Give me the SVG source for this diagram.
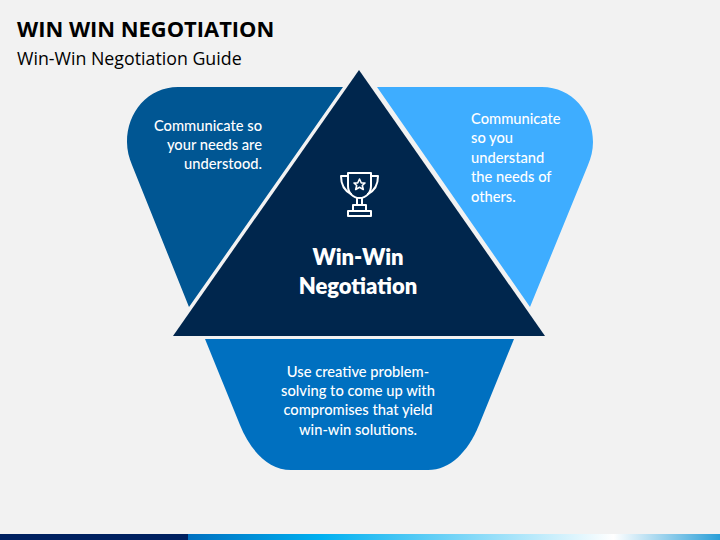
<svg xmlns="http://www.w3.org/2000/svg" width="720" height="540" viewBox="0 0 720 540">
<style>
.t{font-family:"Open Sans","Noto Sans",sans-serif;fill:#000}
.b{font-family:Lato,"Noto Sans",sans-serif;font-size:14.7px;font-weight:500;fill:#fff}
.c{font-family:Lato,"Noto Sans",sans-serif;font-size:22px;font-weight:800;fill:#fff;text-anchor:middle}
.i{fill:none;stroke:#fff;stroke-width:2;stroke-linejoin:round;stroke-linecap:round}
</style>
<defs><linearGradient id="g" x1="0" x2="1" y1="0" y2="0">
<stop offset="0" stop-color="#0070c0"/><stop offset="0.25" stop-color="#00b0f0"/><stop offset="0.8" stop-color="#ffffff"/><stop offset="1" stop-color="#2a9fd8"/></linearGradient></defs>
<rect width="720" height="540" fill="#f2f2f2"/>
<rect x="0" y="534" width="188" height="6" fill="#002060"/>
<rect x="188" y="534" width="532" height="6" fill="url(#g)"/>
<g id="title">
<text class="t" x="17" y="37" font-size="21.9" font-weight="700">WIN WIN NEGOTIATION</text>
<text class="t" x="17" y="65" font-size="17.8">Win-Win Negotiation Guide</text>
</g>
<g id="node-left">
<path d="M343 87H178C148 87 127 112 127 142C127 150 129 158 132 165L189 307Z" fill="#005693"/>
<text class="b" text-anchor="end"><tspan x="262" y="131">Communicate so</tspan><tspan x="262" y="150">your needs are</tspan><tspan x="262" y="169">understood.</tspan></text>
</g>
<g id="node-right">
<path d="M377 87H542C572 87 593 112 593 142C593 150 591 158 588 165L530 307Z" fill="#3eadff"/>
<text class="b"><tspan x="471" y="124">Communicate</tspan><tspan x="471" y="143">so you</tspan><tspan x="471" y="163">understand</tspan><tspan x="471" y="182">the needs of</tspan><tspan x="471" y="202">others.</tspan></text>
</g>
<g id="node-bottom">
<path d="M205 339H514L479 425C468 452 450 470 428 470H291C269 470 251 452 240 425Z" fill="#0070c0"/>
<text class="b" text-anchor="middle"><tspan x="358" y="377">Use creative problem-</tspan><tspan x="358" y="396">solving to come up with</tspan><tspan x="358" y="415">compromises that yield</tspan><tspan x="358" y="435">win-win solutions.</tspan></text>
</g>
<g id="node-center">
<path d="M359 70L545 336H173Z" fill="#00264d"/>
<g class="i">
<path d="M348 173H371V186C371 193 366 198 359.500 198C353 198 348 193 348 186Z"/>
<path d="M348 176H341C341 186 345 191 351 194M371 176H378C378 186 374 191 368 194"/>
<path d="M357 198V205H362V198M353 205H366V211H353ZM348 211H371V216H348Z"/>
<path d="M359.500 179L361.300 183H365L362.300 185.500L363.300 189.500L359.500 187.300L355.700 189.500L356.700 185.500L354 183H357.700Z" stroke-width="1.600"/>
</g>
<text class="c"><tspan x="358" y="265">Win-Win</tspan><tspan x="358" y="294">Negotiation</tspan></text>
</g>
<g id="connectors"/>
</svg>
